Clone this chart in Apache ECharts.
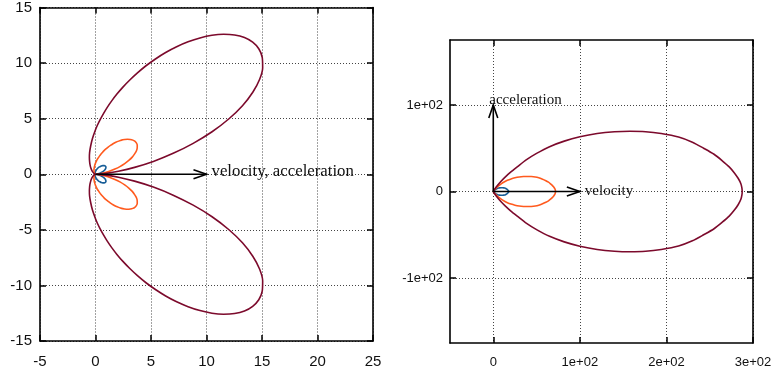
<!DOCTYPE html>
<html><head><meta charset="utf-8">
<script src="https://cdn.jsdelivr.net/npm/echarts@6/dist/echarts.min.js"></script>
<style>html,body{margin:0;padding:0;background:#fff}#c{width:781px;height:375px}</style>
</head><body><div id="c"></div>
<script>
// ---- Left panel: velocity parallel to acceleration ----
const leftBlue = [[0,0],[0.06,0.01],[0.22,0.04],[0.44,0.12],[0.66,0.24],[0.83,0.39],[0.92,0.53],[0.94,0.66],[0.89,0.74],[0.78,0.78],[0.66,0.78],[0.52,0.75],[0.4,0.68],[0.28,0.61],[0.19,0.53],[0.12,0.45],[0.07,0.38],[0.03,0.31],[0,0.25],[-0.03,0.16],[-0.03,0.09],[-0.03,0.05],[-0.02,0.02],[0,0],[-0.02,-0.02],[-0.03,-0.05],[-0.03,-0.09],[-0.03,-0.16],[0,-0.25],[0.03,-0.31],[0.07,-0.38],[0.12,-0.45],[0.19,-0.53],[0.28,-0.61],[0.4,-0.68],[0.52,-0.75],[0.66,-0.78],[0.78,-0.78],[0.89,-0.74],[0.94,-0.66],[0.92,-0.53],[0.83,-0.39],[0.66,-0.24],[0.44,-0.12],[0.22,-0.04],[0.06,-0.01],[0,0]];
const leftOrange = [[0,0],[0.06,0],[0.24,0.02],[0.52,0.07],[0.88,0.16],[1.3,0.29],[1.75,0.47],[2.2,0.69],[2.63,0.96],[3.0,1.24],[3.31,1.54],[3.54,1.85],[3.7,2.13],[3.76,2.4],[3.76,2.63],[3.68,2.82],[3.54,2.97],[3.36,3.07],[3.13,3.13],[2.88,3.15],[2.62,3.12],[2.35,3.07],[2.09,2.98],[1.83,2.87],[1.58,2.74],[1.35,2.59],[1.14,2.44],[0.94,2.28],[0.77,2.12],[0.62,1.96],[0.48,1.8],[0.37,1.65],[0.27,1.5],[0.18,1.37],[0.11,1.24],[0.05,1.11],[0,1],[-0.07,0.8],[-0.11,0.63],[-0.13,0.49],[-0.14,0.38],[-0.13,0.29],[-0.12,0.21],[-0.1,0.13],[-0.08,0.08],[-0.06,0.04],[-0.04,0.02],[-0.01,0],[0,0],
  [-0.01,0],[-0.04,-0.02],[-0.06,-0.04],[-0.08,-0.08],[-0.1,-0.13],[-0.12,-0.21],[-0.13,-0.29],[-0.14,-0.38],[-0.13,-0.49],[-0.11,-0.63],[-0.07,-0.8],[0,-1],[0.05,-1.11],[0.11,-1.24],[0.18,-1.37],[0.27,-1.5],[0.37,-1.65],[0.48,-1.8],[0.62,-1.96],[0.77,-2.12],[0.94,-2.28],[1.14,-2.44],[1.35,-2.59],[1.58,-2.74],[1.83,-2.87],[2.09,-2.98],[2.35,-3.07],[2.62,-3.12],[2.88,-3.15],[3.13,-3.13],[3.36,-3.07],[3.54,-2.97],[3.68,-2.82],[3.76,-2.63],[3.76,-2.4],[3.7,-2.13],[3.54,-1.85],[3.31,-1.54],[3.0,-1.24],[2.63,-0.96],[2.2,-0.69],[1.75,-0.47],[1.3,-0.29],[0.88,-0.16],[0.52,-0.07],[0.24,-0.02],[0.06,0],[0,0]];
const leftMaroon = [[0,0],[0.24,0.01],[0.95,0.08],[2.07,0.27],[3.52,0.62],[5.21,1.15],[7.0,1.88],[8.8,2.78],[10.5,3.82],[12.0,4.97],[13.24,6.17],[14.17,7.38],[14.78,8.53],[15.06,9.59],[15.02,10.52],[14.71,11.29],[14.16,11.88],[13.42,12.3],[12.53,12.53],[11.54,12.59],[10.49,12.5],[9.41,12.26],[8.34,11.91],[7.31,11.47],[6.32,10.95],[5.4,10.37],[4.55,9.76],[3.78,9.12],[3.09,8.48],[2.47,7.84],[1.93,7.21],[1.46,6.6],[1.06,6.02],[0.72,5.46],[0.43,4.94],[0.19,4.45],[0,4],[-0.28,3.2],[-0.44,2.52],[-0.53,1.96],[-0.55,1.51],[-0.53,1.14],[-0.49,0.85],[-0.41,0.53],[-0.31,0.31],[-0.22,0.17],[-0.14,0.08],[-0.04,0.01],[0,0],
  [-0.04,-0.01],[-0.14,-0.08],[-0.22,-0.17],[-0.31,-0.31],[-0.41,-0.53],[-0.49,-0.85],[-0.53,-1.14],[-0.55,-1.51],[-0.53,-1.96],[-0.44,-2.52],[-0.28,-3.2],[0,-4],[0.19,-4.45],[0.43,-4.94],[0.72,-5.46],[1.06,-6.02],[1.46,-6.6],[1.93,-7.21],[2.47,-7.84],[3.09,-8.48],[3.78,-9.12],[4.55,-9.76],[5.4,-10.37],[6.32,-10.95],[7.31,-11.47],[8.34,-11.91],[9.41,-12.26],[10.49,-12.5],[11.54,-12.59],[12.53,-12.53],[13.42,-12.3],[14.16,-11.88],[14.71,-11.29],[15.02,-10.52],[15.06,-9.59],[14.78,-8.53],[14.17,-7.38],[13.24,-6.17],[12.0,-4.97],[10.5,-3.82],[8.8,-2.78],[7.0,-1.88],[5.21,-1.15],[3.52,-0.62],[2.07,-0.27],[0.95,-0.08],[0.24,-0.01],[0,0]];
const leftArrows = [[0,0,10,0]];
const leftArrowLabels = ['velocity, acceleration'];
const leftXTicks = [-5,0,5,10,15,20,25];
const leftXTickLabels = ['-5','0','5','10','15','20','25'];
const leftYTicks = [-15,-10,-5,0,5,10,15];
const leftYTickLabels = ['-15','-10','-5','0','5','10','15'];

// ---- Right panel: velocity perpendicular to acceleration ----
const rightBlue = [[0,0],[0.13,0.2],[0.31,0.46],[0.56,0.74],[0.88,1.06],[1.25,1.39],[1.75,1.79],[2.38,2.28],[3.13,2.75],[4.06,3.24],[5.13,3.64],[6.25,3.95],[7.5,4.19],[8.75,4.31],[9.88,4.35],[11,4.32],[12.13,4.19],[13.13,3.96],[14.06,3.63],[14.88,3.22],[15.63,2.72],[16.25,2.19],[16.75,1.69],[17.19,1.22],[17.5,0.81],[17.75,0.47],[17.91,0.21],[17.97,0],
  [17.91,-0.21],[17.75,-0.47],[17.5,-0.81],[17.19,-1.22],[16.75,-1.69],[16.25,-2.19],[15.63,-2.72],[14.88,-3.22],[14.06,-3.63],[13.13,-3.96],[12.13,-4.19],[11,-4.32],[9.88,-4.35],[8.75,-4.31],[7.5,-4.19],[6.25,-3.95],[5.13,-3.64],[4.06,-3.24],[3.13,-2.75],[2.38,-2.28],[1.75,-1.79],[1.25,-1.39],[0.88,-1.06],[0.56,-0.74],[0.31,-0.46],[0.13,-0.2],[0,0]];
const rightOrange = [[0,0],[0.5,0.8],[1.25,1.83],[2.25,2.98],[3.5,4.23],[5,5.58],[7,7.18],[9.5,9.13],[12.5,11],[16.25,12.95],[20.5,14.55],[25,15.8],[30,16.75],[35,17.25],[39.5,17.4],[44,17.28],[48.5,16.75],[52.5,15.83],[56.25,14.5],[60.75,12.5],[63.75,10.75],[66.1,8.9],[68.1,7.1],[69.6,5.4],[70.75,3.75],[71.5,2.25],[71.8,1],[71.9,0],
  [71.8,-1],[71.5,-2.25],[70.75,-3.75],[69.6,-5.4],[68.1,-7.1],[66.1,-8.9],[63.75,-10.75],[60.75,-12.5],[56.25,-14.5],[52.5,-15.83],[48.5,-16.75],[44,-17.28],[39.5,-17.4],[35,-17.25],[30,-16.75],[25,-15.8],[20.5,-14.55],[16.25,-12.95],[12.5,-11],[9.5,-9.13],[7,-7.18],[5,-5.58],[3.5,-4.23],[2.25,-2.98],[1.25,-1.83],[0.5,-0.8],[0,0]];
const rightMaroon = [[0,0],[2,3.2],[5,7.3],[9,11.9],[14,16.9],[20,22.3],[28,28.7],[38,36.5],[50,44],[65,51.8],[82,58.2],[100,63.2],[120,67],[140,69],[158,69.6],[176,69.1],[194,67],[214,63],[230,57],[243,50],[255,43],[264.5,35.5],[272.5,28.5],[278.5,21.5],[283,15],[286,9],[287.2,4],[287.5,0],
  [287.2,-4],[286,-9],[283,-15],[278.5,-21.5],[272.5,-28.5],[264.5,-35.5],[255,-43],[243,-50],[230,-57],[214,-63],[194,-67],[176,-69.1],[158,-69.6],[140,-69],[120,-67],[100,-63.2],[82,-58.2],[65,-51.8],[50,-44],[38,-36.5],[28,-28.7],[20,-22.3],[14,-16.9],[9,-11.9],[5,-7.3],[2,-3.2],[0,0]];
const rightArrows = [[0,0,100,0],[0,0,0,100]];
const rightArrowLabels = ['velocity','acceleration'];
const rightXTicks = [0,100,200,300];
const rightXTickLabels = ['0','1e+02','2e+02','3e+02'];
const rightYTicks = [-100,0,100];
const rightYTickLabels = ['-1e+02','0','1e+02'];

const COLORS = {blue:'#175d97', orange:'#ff5a1e', maroon:'#7c0a2c'};

function labelFrom(ticks, labels){ return v => { const i = ticks.indexOf(v); return i >= 0 ? labels[i] : ''; }; }

function axisPair(gridIndex, dim, min, max, ticks, labels, fontSize, margin, useCustom){
  const line = {show:true, onZero:false, lineStyle:{color:'#000', width:1.6}};
  const tick = {show:true, inside:true, length:6, lineStyle:{color:'#000', width:1.5}};
  const split = {show:true, lineStyle:{color:'#444', width:1, type:[1,2]}};
  const main = {type:'value', gridIndex, min, max, position: dim==='x'?'bottom':'left',
    axisLine:line, axisTick:Object.assign({}, tick), splitLine:split,
    axisLabel:{show:true, fontSize, fontFamily:'Liberation Sans', color:'#111', margin, formatter:labelFrom(ticks, labels)}};
  const mirror = {type:'value', gridIndex, min, max, position: dim==='x'?'top':'right',
    axisLine:line, axisTick:Object.assign({}, tick), splitLine:{show:false}, axisLabel:{show:false}};
  if (useCustom){
    main.axisTick.customValues = ticks; main.axisLabel.customValues = ticks;
    mirror.axisTick.customValues = ticks;
  } else {
    main.interval = ticks[1]-ticks[0]; mirror.interval = ticks[1]-ticks[0];
  }
  return [main, mirror];
}

function arrowRenderer(labels, textOpts){
  return function(params, api){
    const i = params.dataIndex;
    const a = api.coord([api.value(0), api.value(1)]);
    const b = api.coord([api.value(2), api.value(3)]);
    const ang = Math.atan2(b[1]-a[1], b[0]-a[0]);
    const L = 13, W = 4.5, c = Math.cos(ang), s = Math.sin(ang);
    const h1 = [b[0]-L*c - W*s, b[1]-L*s + W*c];
    const h2 = [b[0]-L*c + W*s, b[1]-L*s - W*c];
    const t = textOpts[i];
    return {type:'group', children:[
      {type:'line', shape:{x1:a[0],y1:a[1],x2:b[0],y2:b[1]}, style:{stroke:'#000', lineWidth:1.6}},
      {type:'polyline', shape:{points:[h1,b,h2]}, style:{stroke:'#000', lineWidth:1.6, fill:'none'}},
      {type:'text', x:b[0]+t.dx, y:b[1]+t.dy, style:{text:labels[i], fill:'#111', fontSize:t.size, fontFamily:'Liberation Serif', align:t.align, verticalAlign:t.va}}
    ]};
  };
}

function curve(data, color, xi){
  return {type:'line', data, xAxisIndex:xi, yAxisIndex:xi, showSymbol:false, symbol:'none', smooth:0.25,
    lineStyle:{color, width:1.6}, itemStyle:{color}, z:3};
}

const lx = axisPair(0,'x',-5,25,leftXTicks,leftXTickLabels,15,13,false);
const ly = axisPair(0,'y',-15,15,leftYTicks,leftYTickLabels,15,8,false);
const rx = axisPair(1,'x',-50,300,rightXTicks,rightXTickLabels,13,13,true);
const ry = axisPair(1,'y',-175,175,rightYTicks,rightYTickLabels,13,7,true);

const chart = echarts.init(document.getElementById('c'), null, {renderer:'canvas'});
chart.setOption({
  animation:false,
  backgroundColor:'#fff',
  grid:[{left:40, top:7, width:333, height:334}, {left:450, top:40, width:303, height:303}],
  xAxis:[lx[0], lx[1], rx[0], rx[1]],
  yAxis:[ly[0], ly[1], ry[0], ry[1]],
  series:[
    curve(leftBlue, COLORS.blue, 0),
    curve(leftOrange, COLORS.orange, 0),
    curve(leftMaroon, COLORS.maroon, 0),
    curve(rightBlue, COLORS.blue, 2),
    curve(rightOrange, COLORS.orange, 2),
    curve(rightMaroon, COLORS.maroon, 2),
    {type:'custom', xAxisIndex:0, yAxisIndex:0, data:leftArrows, z:5, clip:false,
      encode:{x:[0,2], y:[1,3]},
      renderItem:arrowRenderer(leftArrowLabels, [{dx:5, dy:-3, align:'left', va:'middle', size:16.8}])},
    {type:'custom', xAxisIndex:2, yAxisIndex:2, data:rightArrows, z:5, clip:false,
      encode:{x:[0,2], y:[1,3]},
      renderItem:arrowRenderer(rightArrowLabels, [{dx:5, dy:0, align:'left', va:'middle', size:15},{dx:-4, dy:2.5, align:'left', va:'bottom', size:15}])}
  ]
});
</script>
</body></html>
